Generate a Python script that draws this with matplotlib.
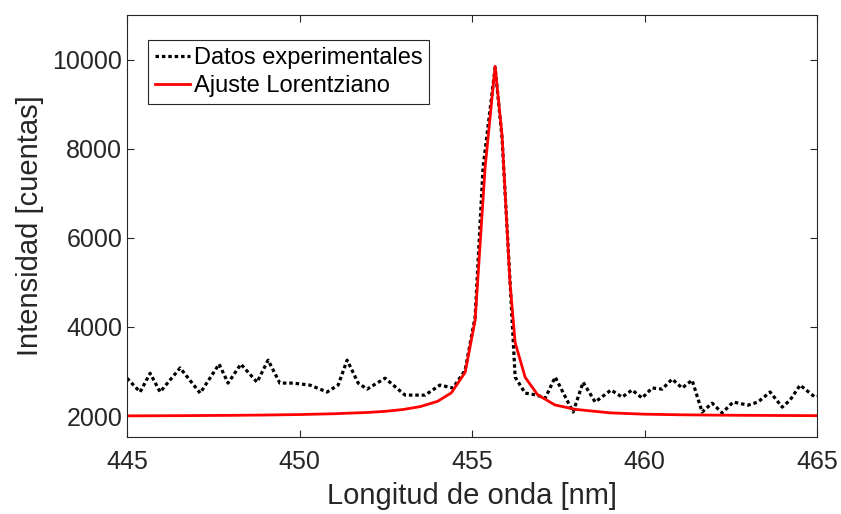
import matplotlib
matplotlib.use("Agg")
import matplotlib.pyplot as plt

wl_exp = [445.00, 445.38, 445.67, 445.96, 446.54, 447.12, 447.67, 447.93, 448.30, 448.77,
          449.09, 449.43, 449.81, 450.30, 450.80, 451.12, 451.38, 451.70, 451.96, 452.48,
          453.06, 453.64, 454.07, 454.45, 454.80, 455.09, 455.32, 455.67, 455.87, 456.10,
          456.25, 456.54, 456.88, 457.12, 457.41, 457.93, 458.22, 458.57, 459.03, 459.35,
          459.64, 459.93, 460.22, 460.51, 460.80, 461.09, 461.38, 461.67, 461.96, 462.25,
          462.57, 463.00, 463.29, 463.64, 463.99, 464.22, 464.51, 464.94, 465.00]
int_exp = [2850, 2540, 2960, 2540, 3080, 2515, 3165, 2740, 3165, 2760,
           3255, 2740, 2740, 2695, 2540, 2695, 3255, 2740, 2605, 2850,
           2470, 2470, 2695, 2630, 3030, 4220, 7580, 9820, 8250, 5050,
           2875, 2515, 2470, 2400, 2875, 2090, 2760, 2315, 2585, 2425,
           2585, 2405, 2630, 2605, 2830, 2630, 2805, 2090, 2290, 2070,
           2315, 2245, 2315, 2540, 2200, 2360, 2695, 2425, 2440]

# lorentzian fit curve
wl_fit = [445.0, 446.0, 447.0, 448.0, 449.0, 450.0, 451.0, 452.0, 452.5, 453.0,
          453.5, 454.0, 454.4, 454.8, 455.09, 455.38, 455.67, 455.87, 456.1, 456.25,
          456.54, 456.9, 457.4, 458.0, 459.0, 460.0, 461.0, 462.0, 463.0, 464.0, 465.0]
int_fit = [2005, 2007, 2011, 2016, 2023, 2034, 2052, 2082, 2107, 2147,
           2212, 2330, 2520, 2980, 4150, 7580, 9850, 8300, 5000, 3650,
           2870, 2480, 2250, 2150, 2072, 2042, 2029, 2021, 2016, 2012, 2009]

plt.rcParams['font.family'] = ['Liberation Sans', 'DejaVu Sans']
grey = '#262626'

fig = plt.figure(figsize=(8.41, 5.14), dpi=100)
ax = fig.add_axes([0.151, 0.1498, 0.8205, 0.821])

ax.plot(wl_exp, int_exp, color='black', linewidth=2.3, linestyle=(0, (1.1, 0.9)),
        label='Datos experimentales')
ax.plot(wl_fit, int_fit, color='#ff0000', linewidth=2.0, label='Ajuste Lorentziano')

ax.set_xlim(445, 465)
ax.set_ylim(1530, 11000)
ax.set_xticks([445, 450, 455, 460, 465])
ax.set_yticks([2000, 4000, 6000, 8000, 10000])

ax.tick_params(direction='in', top=True, right=True, labelsize=18, colors=grey,
               length=5, width=0.8)
ax.tick_params(axis='x', pad=9)
for s in ax.spines.values():
    s.set_color(grey)
    s.set_linewidth(0.8)

ax.set_xlabel('Longitud de onda [nm]', fontsize=21, color=grey, labelpad=6)
ax.set_ylabel('Intensidad [cuentas]', fontsize=21, color=grey, labelpad=6)

leg = ax.legend(loc='upper left', bbox_to_anchor=(0.03, 0.941), fontsize=17,
                fancybox=False, edgecolor=grey, framealpha=1, handlelength=1.5,
                handletextpad=0.15, borderpad=0.3, labelspacing=0.25, borderaxespad=0)
leg.get_frame().set_linewidth(0.8)

fig.savefig('out.png', dpi=100)
